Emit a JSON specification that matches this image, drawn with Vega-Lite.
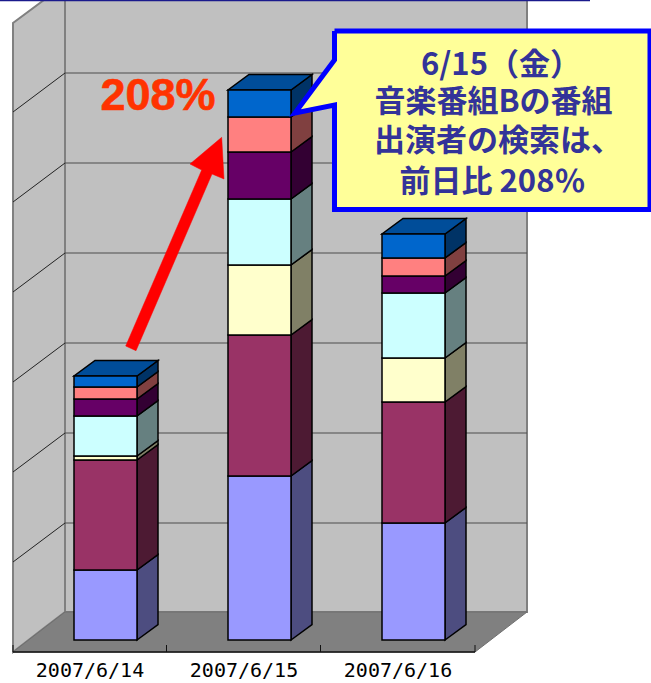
{"$schema":"https://vega.github.io/schema/vega-lite/v6.json","width":651,"height":683,"padding":0,"autosize":{"type":"none"},"background":"white","config":{"view":{"stroke":null},"legend":{"disable":true}},
"resolve":{"scale":{"fill":"independent"}},
"datasets":{
"front":[
{"b":1,"s":"S1","x":74,"x2":137,"v":0,"v2":70},{"b":1,"s":"S2","x":74,"x2":137,"v":70,"v2":180},{"b":1,"s":"S3","x":74,"x2":137,"v":180,"v2":184},{"b":1,"s":"S4","x":74,"x2":137,"v":184,"v2":224},{"b":1,"s":"S5","x":74,"x2":137,"v":224,"v2":241},{"b":1,"s":"S6","x":74,"x2":137,"v":241,"v2":253},{"b":1,"s":"S7","x":74,"x2":137,"v":253,"v2":264},
{"b":2,"s":"S1","x":228,"x2":291,"v":0,"v2":164},{"b":2,"s":"S2","x":228,"x2":291,"v":164,"v2":305},{"b":2,"s":"S3","x":228,"x2":291,"v":305,"v2":375},{"b":2,"s":"S4","x":228,"x2":291,"v":375,"v2":441},{"b":2,"s":"S5","x":228,"x2":291,"v":441,"v2":488},{"b":2,"s":"S6","x":228,"x2":291,"v":488,"v2":523},{"b":2,"s":"S7","x":228,"x2":291,"v":523,"v2":550},
{"b":3,"s":"S1","x":382,"x2":445,"v":0,"v2":117},{"b":3,"s":"S2","x":382,"x2":445,"v":117,"v2":238},{"b":3,"s":"S3","x":382,"x2":445,"v":238,"v2":282},{"b":3,"s":"S4","x":382,"x2":445,"v":282,"v2":347},{"b":3,"s":"S5","x":382,"x2":445,"v":347,"v2":364},{"b":3,"s":"S6","x":382,"x2":445,"v":364,"v2":382},{"b":3,"s":"S7","x":382,"x2":445,"v":382,"v2":406}],
"side":[
{"b":1,"s":"S1","x":137,"v":0,"v2":70},{"b":1,"s":"S1","x":158,"v":15.5,"v2":85.5},{"b":1,"s":"S2","x":137,"v":70,"v2":180},{"b":1,"s":"S2","x":158,"v":85.5,"v2":195.5},{"b":1,"s":"S3","x":137,"v":180,"v2":184},{"b":1,"s":"S3","x":158,"v":195.5,"v2":199.5},{"b":1,"s":"S4","x":137,"v":184,"v2":224},{"b":1,"s":"S4","x":158,"v":199.5,"v2":239.5},{"b":1,"s":"S5","x":137,"v":224,"v2":241},{"b":1,"s":"S5","x":158,"v":239.5,"v2":256.5},{"b":1,"s":"S6","x":137,"v":241,"v2":253},{"b":1,"s":"S6","x":158,"v":256.5,"v2":268.5},{"b":1,"s":"S7","x":137,"v":253,"v2":264},{"b":1,"s":"S7","x":158,"v":268.5,"v2":279.5},
{"b":2,"s":"S1","x":291,"v":0,"v2":164},{"b":2,"s":"S1","x":312,"v":15.5,"v2":179.5},{"b":2,"s":"S2","x":291,"v":164,"v2":305},{"b":2,"s":"S2","x":312,"v":179.5,"v2":320.5},{"b":2,"s":"S3","x":291,"v":305,"v2":375},{"b":2,"s":"S3","x":312,"v":320.5,"v2":390.5},{"b":2,"s":"S4","x":291,"v":375,"v2":441},{"b":2,"s":"S4","x":312,"v":390.5,"v2":456.5},{"b":2,"s":"S5","x":291,"v":441,"v2":488},{"b":2,"s":"S5","x":312,"v":456.5,"v2":503.5},{"b":2,"s":"S6","x":291,"v":488,"v2":523},{"b":2,"s":"S6","x":312,"v":503.5,"v2":538.5},{"b":2,"s":"S7","x":291,"v":523,"v2":550},{"b":2,"s":"S7","x":312,"v":538.5,"v2":565.5},
{"b":3,"s":"S1","x":445,"v":0,"v2":117},{"b":3,"s":"S1","x":466,"v":15.5,"v2":132.5},{"b":3,"s":"S2","x":445,"v":117,"v2":238},{"b":3,"s":"S2","x":466,"v":132.5,"v2":253.5},{"b":3,"s":"S3","x":445,"v":238,"v2":282},{"b":3,"s":"S3","x":466,"v":253.5,"v2":297.5},{"b":3,"s":"S4","x":445,"v":282,"v2":347},{"b":3,"s":"S4","x":466,"v":297.5,"v2":362.5},{"b":3,"s":"S5","x":445,"v":347,"v2":364},{"b":3,"s":"S5","x":466,"v":362.5,"v2":379.5},{"b":3,"s":"S6","x":445,"v":364,"v2":382},{"b":3,"s":"S6","x":466,"v":379.5,"v2":397.5},{"b":3,"s":"S7","x":445,"v":382,"v2":406},{"b":3,"s":"S7","x":466,"v":397.5,"v2":421.5}],
"top":[
{"b":1,"x":74,"v":264,"v2":264},{"b":1,"x":95,"v":264,"v2":279.5},{"b":1,"x":137,"v":264,"v2":279.5},{"b":1,"x":158,"v":279.5,"v2":279.5},
{"b":2,"x":228,"v":550,"v2":550},{"b":2,"x":249,"v":550,"v2":565.5},{"b":2,"x":291,"v":550,"v2":565.5},{"b":2,"x":312,"v":565.5,"v2":565.5},
{"b":3,"x":382,"v":406,"v2":406},{"b":3,"x":403,"v":406,"v2":421.5},{"b":3,"x":445,"v":406,"v2":421.5},{"b":3,"x":466,"v":421.5,"v2":421.5}]
},
"encoding":{"x":{"field":"x","type":"quantitative","axis":null,"scale":{"domain":[0,651],"nice":false,"zero":false}},"y":{"field":"v","type":"quantitative","axis":null,"scale":{"domain":[-43,640],"nice":false,"zero":false}}},
"layer":[
{"data":{"values":[{"x":65,"x2":527,"v":28,"v2":640}]},"mark":{"type":"rect","fill":"#C0C0C0","stroke":"#808080","strokeWidth":2},"encoding":{"x2":{"field":"x2"},"y2":{"field":"v2"}}},
{"data":{"values":[{"x":13,"v":-12,"v2":617},{"x":44,"v":12,"v2":640},{"x":65,"v":28,"v2":640}]},"mark":{"type":"area","fill":"#C0C0C0","stroke":"#808080","strokeWidth":2},"encoding":{"y2":{"field":"v2"}}},
{"data":{"values":[{"x":13,"v":-12,"v2":-12},{"x":65,"v":-12,"v2":28},{"x":475,"v":-12,"v2":28},{"x":527,"v":28,"v2":28}]},"mark":{"type":"area","fill":"#808080","stroke":"#6e6e6e","strokeWidth":1},"encoding":{"y2":{"field":"v2"}}},
{"data":{"values":[{"x":65,"x2":527,"v":567},{"x":65,"x2":527,"v":477},{"x":65,"x2":527,"v":387},{"x":65,"x2":527,"v":297},{"x":65,"x2":527,"v":207},{"x":65,"x2":527,"v":117}]},"mark":{"type":"rule","stroke":"#4d4d4d","strokeWidth":1},"encoding":{"x2":{"field":"x2"}}},
{"data":{"values":[{"x":13,"x2":65,"v":528,"v2":567},{"x":13,"x2":65,"v":438,"v2":477},{"x":13,"x2":65,"v":348,"v2":387},{"x":13,"x2":65,"v":258,"v2":297},{"x":13,"x2":65,"v":168,"v2":207},{"x":13,"x2":65,"v":78,"v2":117}]},"mark":{"type":"rule","stroke":"#222222","strokeWidth":1},"encoding":{"x2":{"field":"x2"},"y2":{"field":"v2"}}},
{"data":{"values":[{"x":13,"x2":475,"v":-12}]},"mark":{"type":"rule","stroke":"#111111","strokeWidth":1.5},"encoding":{"x2":{"field":"x2"}}},
{"data":{"values":[{"x":13,"v":-12,"v2":-5},{"x":166.5,"v":-12,"v2":-5},{"x":320.5,"v":-12,"v2":-5},{"x":475,"v":-12,"v2":-5}]},"mark":{"type":"rule","stroke":"#111111","strokeWidth":1},"encoding":{"y2":{"field":"v2"}}},
{"data":{"name":"side"},"mark":{"type":"area","stroke":"#000000","strokeWidth":1.5,"strokeJoin":"miter"},"encoding":{"y2":{"field":"v2"},"detail":{"field":"b"},"fill":{"field":"s","type":"nominal","legend":null,"scale":{"domain":["S1","S2","S3","S4","S5","S6","S7"],"range":["#4D4D80","#4D1A33","#808066","#668080","#330033","#804040","#003366"]}}}},
{"data":{"name":"top"},"mark":{"type":"area","fill":"#004D99","stroke":"#000000","strokeWidth":1.5,"strokeJoin":"miter"},"encoding":{"y2":{"field":"v2"},"detail":{"field":"b"}}},
{"data":{"name":"front"},"mark":{"type":"rect","stroke":"#000000","strokeWidth":1.5},"encoding":{"x2":{"field":"x2"},"y2":{"field":"v2"},"fill":{"field":"s","type":"nominal","legend":null,"scale":{"domain":["S1","S2","S3","S4","S5","S6","S7"],"range":["#9999FF","#993366","#FFFFCC","#CCFFFF","#660066","#FF8080","#0066CC"]}}}},
{"data":{"values":[{"i":1,"x":125.7,"v":294},{"i":2,"x":201.7,"v":470},{"i":3,"x":190,"v":476},{"i":4,"x":221.7,"v":502.7},{"i":5,"x":224,"v":461},{"i":6,"x":212,"v":466},{"i":7,"x":136,"v":289.3},{"i":8,"x":125.7,"v":294}]},"mark":{"type":"line","fill":"#FF0000","stroke":"#FF0000","strokeWidth":0.5},"encoding":{"order":{"field":"i"}}},
{"data":{"values":[{"x":158,"v":530,"t":"208%"}]},"mark":{"type":"text","font":"Liberation Sans","fontWeight":"bold","fontSize":45,"fill":"#FF3300","stroke":"#FF3300","strokeWidth":0.6,"align":"center","baseline":"alphabetic"},"encoding":{"text":{"field":"t"}}},
{"data":{"values":[{"i":1,"x":334.5,"v":609},{"i":2,"x":650,"v":609},{"i":3,"x":650,"v":430.5},{"i":4,"x":334.5,"v":430.5},{"i":5,"x":334.5,"v":535},{"i":6,"x":295,"v":527},{"i":7,"x":334.5,"v":580},{"i":8,"x":334.5,"v":609}]},"mark":{"type":"line","fill":"#FFFF99","stroke":"#0000FF","strokeWidth":5,"strokeJoin":"miter"},"encoding":{"order":{"field":"i"}}},
{"data":{"values":[{"x":501,"v":574,"t":"6/15（金）"},{"x":493.5,"v":537,"t":"音楽番組Bの番組"},{"x":498,"v":498,"t":"出演者の検索は、"},{"x":492.5,"v":457,"t":"前日比 208％"}]},"mark":{"type":"text","font":"Noto Sans CJK JP","fontWeight":"bold","fontSize":31,"fill":"#333399","align":"center","baseline":"middle"},"encoding":{"text":{"field":"t"}}},
{"data":{"values":[{"x":90,"v":-31,"t":"2007/6/14"},{"x":244,"v":-31,"t":"2007/6/15"},{"x":398,"v":-31,"t":"2007/6/16"}]},"mark":{"type":"text","font":"DejaVu Sans Mono","fontSize":20,"fill":"#000000","align":"center","baseline":"middle"},"encoding":{"text":{"field":"t"}}},
{"data":{"values":[{"x":0,"x2":590,"v":639.5}]},"mark":{"type":"rule","stroke":"#1A1A8C","strokeWidth":1.5},"encoding":{"x2":{"field":"x2"}}}
]}
